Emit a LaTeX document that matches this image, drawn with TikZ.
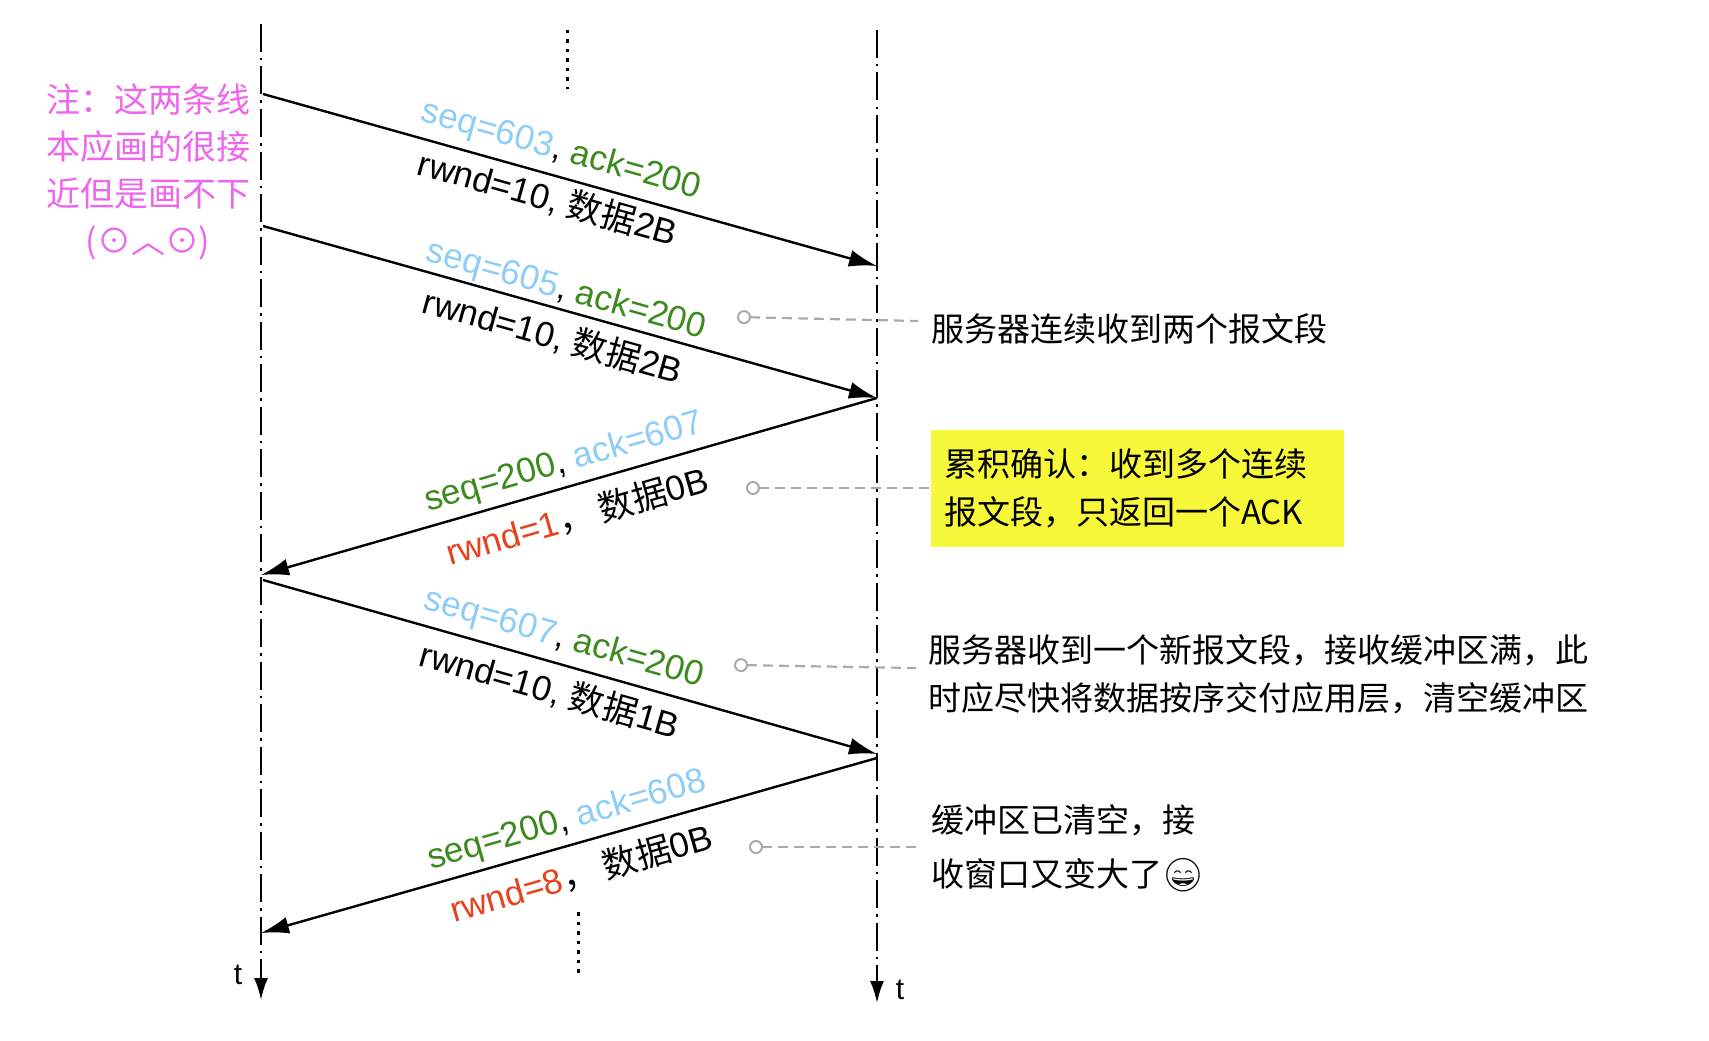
\documentclass[tikz,border=0pt]{standalone}
\usepackage{fontspec}
\setmainfont{Liberation Sans}
\newfontfamily\cjk{Noto Sans CJK SC}
\newfontfamily\emo{Noto Emoji}
\usetikzlibrary{arrows.meta}
\definecolor{sb}{HTML}{8ECDF7}
\definecolor{gr}{HTML}{3C8A1E}
\definecolor{rd}{HTML}{E5421E}
\definecolor{pk}{HTML}{EE66EE}
\definecolor{gy}{HTML}{AAAAAA}
\definecolor{yl}{HTML}{F8F83A}
\tikzset{
  life/.style={line width=2.2pt,dash pattern=on 28pt off 6pt on 2.5pt off 6pt,-{Latex[length=22pt,width=14pt]}},
  msg/.style={line width=2.4pt,-{Latex[length=28pt,width=17pt]}},
  lab/.style={font=\fontsize{35}{38}\selectfont,inner sep=0pt},
  note/.style={font=\cjk\fontsize{33}{48}\selectfont,inner sep=0pt,align=left,anchor=west},
  conn/.style={gy,line width=2.2pt,dash pattern=on 10pt off 6pt,{Circle[open,length=14pt,width=14pt,line width=2pt]}-},
  dots/.style={line width=3pt,dash pattern=on 3.5pt off 6pt}
}
\begin{document}
\begin{tikzpicture}[x=1pt,y=-1pt]
\useasboundingbox (0,0) rectangle (1709,1041);
\coordinate (Lt) at (261,24);
\coordinate (Lb) at (261,1000);
\coordinate (Rt) at (877,30);
\coordinate (Rb) at (877,1003);
\draw[life] (Lt) -- (Lb);
\draw[life] (Rt) -- (Rb);
\node[font=\fontsize{30}{30}\selectfont] (tl) at (238,975) {t};
\node[font=\fontsize{30}{30}\selectfont] (tr) at (900,990) {t};
\coordinate (d1a) at (567,30); \coordinate (d1b) at (567,89);
\draw[dots] (d1a) -- (d1b);
\coordinate (d2a) at (578,912); \coordinate (d2b) at (578,973);
\draw[dots] (d2a) -- (d2b);
% messages
\coordinate (a1s) at (263,94);  \coordinate (a1e) at (877,266);
\coordinate (a2s) at (263,226); \coordinate (a2e) at (877,398);
\coordinate (a3s) at (877,398); \coordinate (a3e) at (261,575);
\coordinate (a4s) at (263,580); \coordinate (a4e) at (877,754);
\coordinate (a5s) at (877,758); \coordinate (a5e) at (261,933);
\draw[msg] (a1s) -- (a1e);
\draw[msg] (a2s) -- (a2e);
\draw[msg] (a3s) -- (a3e);
\draw[msg] (a4s) -- (a4e);
\draw[msg] (a5s) -- (a5e);
% labels
\node[lab,rotate=-15.6] (l1a) at (561,151) {{\color{sb}seq=603}, {\color{gr}ack=200}};
\node[lab,rotate=-15.6] (l1b) at (548,198) {rwnd=10, {\cjk 数据}2B};
\node[lab,rotate=-15.6] (l2a) at (566,291) {{\color{sb}seq=605}, {\color{gr}ack=200}};
\node[lab,rotate=-15.6] (l2b) at (553,336) {rwnd=10, {\cjk 数据}2B};
\node[lab,rotate=16] (l3a) at (564,463) {{\color{gr}seq=200}, {\color{sb}ack=607}};
\node[lab,rotate=16] (l3b) at (577,516) {{\color{rd}rwnd=1}{\cjk ， 数据}0B};
\node[lab,rotate=-15.8] (l4a) at (564,639) {{\color{sb}seq=607}, {\color{gr}ack=200}};
\node[lab,rotate=-15.8] (l4b) at (550,690) {rwnd=10, {\cjk 数据}1B};
\node[lab,rotate=16] (l5a) at (567,821) {{\color{gr}seq=200}, {\color{sb}ack=608}};
\node[lab,rotate=16] (l5b) at (581,873) {{\color{rd}rwnd=8}{\cjk ， 数据}0B};
% pink note
\node[font=\cjk\fontsize{34}{47}\selectfont,text=pk,align=center,inner sep=0pt] (pn) at (148,172)
  {注：这两条线\\本应画的很接\\近但是画不下\\(⊙︿⊙)};
% annotations
\node[note] (n1) at (931,329) {服务器连续收到两个报文段};
\node[note,fill=yl,text width=387pt,minimum height=117pt,inner xsep=13pt] (n2) at (931,488) {累积确认：收到多个连续\\报文段，只返回一个ACK};
\node[note] (n3) at (928,674) {服务器收到一个新报文段，接收缓冲区满，此\\时应尽快将数据按序交付应用层，清空缓冲区};
\node[note,font=\cjk\fontsize{33}{54}\selectfont] (n4) at (931,848) {缓冲区已清空，接\\收窗口又变大了{\emo 😄}};
\coordinate (c1) at (737,317); \coordinate (e1) at (918,321);
\coordinate (c2) at (746,488);
\coordinate (c3) at (734,665); \coordinate (e3) at (916,668);
\coordinate (c4) at (749,847); \coordinate (e4) at (918,847);
\draw[conn] (c1) -- (e1);
\draw[conn] (c2) -- (n2.west);
\draw[conn] (c3) -- (e3);
\draw[conn] (c4) -- (e4);
\end{tikzpicture}
\end{document}
